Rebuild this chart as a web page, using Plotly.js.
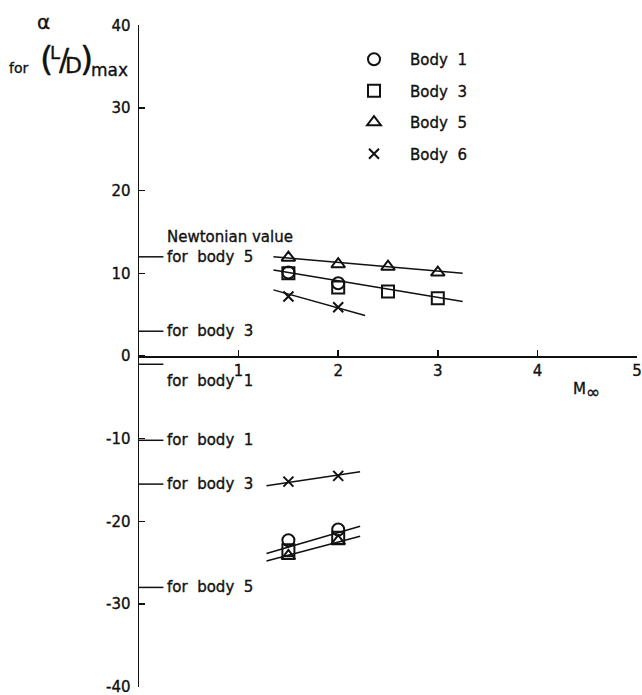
<!DOCTYPE html>
<html>
<head>
<meta charset="utf-8">
<script src="https://cdn.plot.ly/plotly-3.0.1.min.js"></script>
<style>
  html, body { margin: 0; padding: 0; background: #fff; }
  #chart { width: 642px; height: 695px; }
  #chart text { stroke: #111; stroke-width: 0.35px; }
</style>
</head>
<body>
<div id="chart"></div>
<script>
// Angle of attack for maximum L/D against free-stream Mach number

// Measured points, upper (positive incidence) branch
const machUpper = [1.5, 2, 2.5, 3];
const body1Upper = [10.1, 8.8];
const body3Upper = [10.0, 8.3, 7.8, 7.0];
const body5Upper = [11.9, 11.1, 10.8, 10.1];
const body6Upper = [7.2, 5.9];

// Measured points, lower (negative incidence) branch
const machLower = [1.5, 2];
const body1Lower = [-22.3, -21.0];
const body3Lower = [-23.5, -22.0];
const body5Lower = [-24.2, -22.4];
const body6Lower = [-15.2, -14.5];

// Faired curves through the data (end points)
const fairMachA = [1.35, 3.25];
const fairBody5 = [12.0, 10.0];
const fairBody3 = [10.4, 6.6];
const fairMachB = [1.35, 2.27];
const fairBody6 = [8.0, 4.9];
const fairMachC = [1.28, 2.22];
const fairBody6Lower = [-15.7, -14.0];
const fairUpperLower = [-23.9, -20.6];
const fairLowerLower = [-24.8, -21.8];

// Newtonian values marked on the incidence axis
const newtonValues = [12, 3, -1, -10.2, -15.5, -28.0];
const newtonLabels = ['for body 5', 'for body 3', 'for body 1', 'for body 1', 'for body 3', 'for body 5'];

// Axis ticks
const xTicks = [1, 2, 3, 4, 5];
const yTicks = [-40, -30, -20, -10, 0, 10, 20, 30, 40];
const legendNames = ['Body 1', 'Body 3', 'Body 5', 'Body 6'];

const FONT = 'DejaVu Sans, Liberation Sans, sans-serif';
const INK = '#111';
const wide = s => s.replace(/ /g, '\u00a0\u00a0');

// plot-area geometry in pixels, used to place free text
const M = {l: 139, r: 5, t: 25, b: 8};
const W = 642, H = 695;
const pw = W - M.l - M.r, ph = H - M.t - M.b;
const px2paper = px => (px - M.l) / pw;
const py2paper = py => (H - M.b - py) / ph;

const mk = (symbol, size) => ({symbol: symbol, size: size, color: INK, line: {color: INK, width: 2}});
const symbols = [mk('circle-open', 12), mk('square-open', 12), mk('triangle-up-open', 12), mk('x-thin-open', 10)];

function fairing(xs, ys) {
  return {x: xs, y: ys, mode: 'lines', line: {color: INK, width: 1.5}, showlegend: false, hoverinfo: 'skip'};
}
function points(xs, ys, i, show) {
  return {x: xs, y: ys, mode: 'markers', marker: symbols[i], name: wide(legendNames[i]),
          legendgroup: 'g' + i, showlegend: show, cliponaxis: false};
}

const traces = [
  fairing(fairMachA, fairBody5),
  fairing(fairMachA, fairBody3),
  fairing(fairMachB, fairBody6),
  fairing(fairMachC, fairBody6Lower),
  fairing(fairMachC, fairUpperLower),
  fairing(fairMachC, fairLowerLower),
  points(machUpper.slice(0, body1Upper.length), body1Upper, 0, true),
  points(machUpper, body3Upper, 1, true),
  points(machUpper, body5Upper, 2, true),
  points(machUpper.slice(0, body6Upper.length), body6Upper, 3, true),
  points(machLower, body1Lower, 0, false),
  points(machLower, body3Lower, 1, false),
  points(machLower, body5Lower, 2, false),
  points(machLower, body6Lower, 3, false)
];

const shapes = newtonValues.map(v => ({
  type: 'line', xref: 'x', yref: 'y', x0: 0, x1: 0.245, y0: v, y1: v,
  line: {color: INK, width: 1.5}
}));

const txt = (text, size) => ({text: text, showarrow: false, font: {family: FONT, size: size, color: INK}});

const annotations = newtonValues.map((v, i) => Object.assign(txt(wide(newtonLabels[i]), 15), {
  xref: 'x', yref: 'y', x: 0.26, y: v, xanchor: 'left', yanchor: 'middle',
  yshift: i === 2 ? -17 : 0
}));

annotations.push(Object.assign(txt('Newtonian value', 15), {
  xref: 'x', yref: 'y', x: 0.26, y: newtonValues[0], yshift: 20, xanchor: 'left', yanchor: 'middle'
}));

// axis titles, built from pieces laid out in pixels
const titleBits = [
  ['α', 20, 43, 22],
  ['for', 14, 18, 68],
  ['(', 34, 46, 59],
  ['L', 18, 55, 53],
  ['/', 30, 64, 59],
  ['D', 22, 73, 66],
  [')', 34, 86, 59],
  ['max', 17, 109, 70],
  ['M', 15, 579, 389],
  ['∞', 17, 593, 392]
];
titleBits.forEach(([t, s, x, y]) => annotations.push(Object.assign(txt(t, s), {
  xref: 'paper', yref: 'paper', x: px2paper(x), y: py2paper(y), xanchor: 'center', yanchor: 'middle'
})));

const layout = {
  width: W, height: H,
  margin: M,
  paper_bgcolor: '#fff', plot_bgcolor: '#fff',
  font: {family: FONT, size: 15, color: INK},
  showlegend: true,
  legend: {
    x: px2paper(338), y: py2paper(43), xanchor: 'left', yanchor: 'top',
    bgcolor: 'rgba(0,0,0,0)', borderwidth: 0, itemwidth: 62,
    tracegroupgap: 9, font: {family: FONT, size: 15, color: INK}
  },
  xaxis: {
    range: [0, 5], anchor: 'free', position: 0.5,
    showline: true, linecolor: INK, linewidth: 1.5,
    showgrid: false, zeroline: false,
    ticks: 'inside', ticklen: 6, tickwidth: 1.5, tickcolor: INK,
    ticklabeloverflow: 'allow',
    tickvals: xTicks, ticktext: xTicks.map(String),
    tickfont: {family: FONT, size: 15, color: INK}
  },
  yaxis: {
    range: [-40.05, 40.05],
    showline: true, linecolor: INK, linewidth: 1.5,
    showgrid: false, zeroline: false,
    ticks: 'inside', ticklen: 6, tickwidth: 1.5, tickcolor: INK,
    ticklabelstandoff: 4, ticklabeloverflow: 'allow',
    tickvals: yTicks, ticktext: yTicks.map(String),
    tickfont: {family: FONT, size: 15, color: INK}
  },
  shapes: shapes,
  annotations: annotations
};

Plotly.newPlot('chart', traces, layout, {displayModeBar: false, staticPlot: true});
</script>
</body>
</html>
